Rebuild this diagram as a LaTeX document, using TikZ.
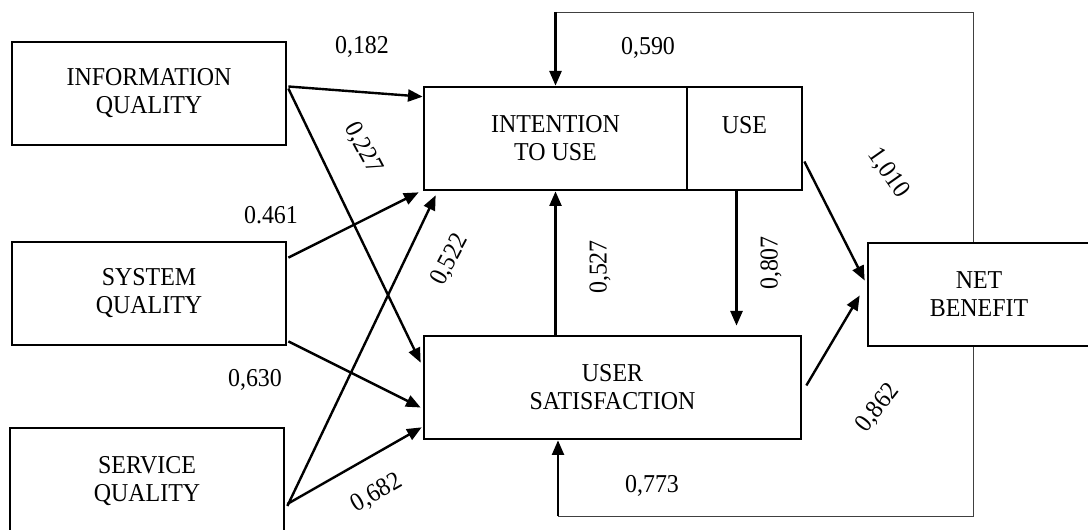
\documentclass[tikz,border=0pt]{standalone}
\usepackage{fontspec}
\setmainfont{Liberation Serif}[FakeStretch=0.93]
\usetikzlibrary{arrows.meta,calc}
\begin{document}
\begin{tikzpicture}[x=0.75pt,y=-0.75pt,
  box/.style={draw,line width=2pt,inner sep=0pt,align=center,font=\fontsize{19.3}{21}\selectfont},
  arr/.style={line width=1.8pt,-{Triangle[length=11pt,width=9pt]}},
  fb/.style={line width=0.7pt,draw=black!75},
  lbl/.style={font=\fontsize{19.3}{21}\selectfont,inner sep=0pt}]
\useasboundingbox (0,0) rectangle (1088,530);
% boxes
\node[box,minimum width=205.5pt,minimum height=77.25pt] (info) at (149,93.5) {INFORMATION\\QUALITY};
\node[box,minimum width=205.5pt,minimum height=77.25pt] (system) at (149,293.5) {SYSTEM\\QUALITY};
\node[box,minimum width=205.5pt,minimum height=79.5pt] (service) at (147,481) {SERVICE\\QUALITY};
\node[box,minimum width=197.25pt,minimum height=77.25pt] (intention) at (555.5,138.5) {INTENTION\\TO USE};
\node[box,minimum width=86.25pt,minimum height=77.25pt] (use) at (744.5,138.5) {USE\\\mbox{}};
\node[box,minimum width=282.75pt,minimum height=77.25pt] (usersat) at (612.5,387.5) {USER\\SATISFACTION};
\node[box,minimum width=166.5pt,minimum height=77.25pt] (net) at (979,294.5) {NET\\BENEFIT};
% arrows from the quality boxes
\draw[arr] ($(info.east)+(1,-7)$) -- ($(intention.north west)+(0,11)$);
\draw[arr] ($(info.east)+(1,-5)$) -- ($(usersat.north west)+(-2,28)$);
\draw[arr] ($(system.north east)+(1,17)$) -- ($(intention.south west)+(-4,1)$);
\draw[arr] ($(system.south east)+(1,-5)$) -- ($(usersat.west)+(-2,20)$);
\draw[arr] ($(service.east)+(2,25)$) -- ($(intention.south west)+(13,4)$);
\draw[arr] ($(service.east)+(2,23)$) -- ($(usersat.south west)+(-1,-13)$);
% between middle boxes
\draw[arr] (intention.south |- usersat.north) -- (intention.south);
\coordinate (u807) at ($(use.south)+(-8,0)$);
\draw[arr] (u807) -- ($(u807 |- usersat.north)+(0,-9)$);
\draw[arr] ($(use.east)+(1,23)$) -- ($(net.west)+(-2,-14)$);
\draw[arr] ($(usersat.east)+(4,-2)$) -- ($(net.west)+(-7,1)$);
% feedback loops
\coordinate (tr) at (973,12);
\coordinate (tl) at (intention.north |- tr);
\draw[fb] (net.north -| tr) -- (tr) -- (tl);
\draw[arr] (tl) -- (intention.north);
\coordinate (br) at (973,516);
\coordinate (bl) at (558,516);
\draw[fb] (net.south -| br) -- (br) -- (bl);
\draw[arr] (bl) -- (bl |- usersat.south);
% labels
\node[lbl] (l182) at (362,47) {0,182};
\node[lbl,rotate=-62] (l227) at (363,148) {0,227};
\node[lbl] (l461) at (271,215) {0.461};
\node[lbl,rotate=62] (l522) at (450,260) {0,522};
\node[lbl,rotate=90] (l527) at (600,267) {0,527};
\node[lbl,rotate=90] (l807) at (771,263) {0,807};
\node[lbl] (l590) at (648,48) {0,590};
\node[lbl,rotate=-55] (l010) at (888,173) {1,010};
\node[lbl] (l630) at (255,380) {0,630};
\node[lbl,rotate=30] (l682) at (377,493) {0,682};
\node[lbl,rotate=52] (l862) at (878,408) {0,862};
\node[lbl] (l773) at (652,486) {0,773};
\end{tikzpicture}
\end{document}
